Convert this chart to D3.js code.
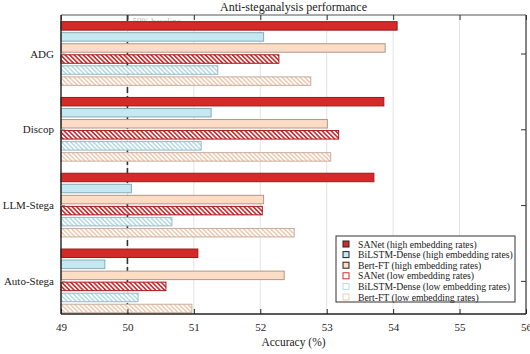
<!DOCTYPE html>
<html>
<head>
<meta charset="utf-8">
<script src="https://cdn.jsdelivr.net/npm/d3@7"></script>
<style>
  body { margin: 0; background: #fff; }
  svg text { font-family: "Liberation Serif", "DejaVu Serif", serif; }
</style>
</head>
<body>
<div id="chart"></div>
<script>
// categories (top to bottom) and series values
var categories = ["ADG", "Discop", "LLM-Stega", "Auto-Stega"];
var seriesNames = [
    "SANet (high embedding rates)",
    "BiLSTM-Dense (high embedding rates)",
    "Bert-FT (high embedding rates)",
    "SANet (low embedding rates)",
    "BiLSTM-Dense (low embedding rates)",
    "Bert-FT (low embedding rates)"
];
var sanetHigh = [54.06, 53.86, 53.71, 51.06];
var bilstmHigh = [52.05, 51.26, 50.06, 49.66];
var bertHigh = [53.88, 53.01, 52.05, 52.36];
var sanetLow = [52.28, 53.18, 52.03, 50.58];
var bilstmLow = [51.36, 51.11, 50.67, 50.16];
var bertLow = [52.76, 53.06, 52.51, 50.97];
var xTicks = [49, 50, 51, 52, 53, 54, 55, 56];

(function () {
    var allSeries = [sanetHigh, bilstmHigh, bertHigh, sanetLow, bilstmLow, bertLow];

    // styles per series: fill colour, edge colour, hatched or not
    var styles = [
        { color: "#d42a2a", edge: "#9a1a1a", hatch: false },
        { color: "#c6e8f1", edge: "#8aaab5", hatch: false },
        { color: "#fcdcc4", edge: "#b09888", hatch: false },
        { color: "#d42a2a", edge: "#a01818", hatch: true },
        { color: "#b5dbe5", edge: "#9bb8c0", hatch: true },
        { color: "#efcbb3", edge: "#c6ad9d", hatch: true }
    ];

    var width = 530, height = 354;
    var mLeft = 61, mRight = 526, mTop = 15, mBottom = 314;

    var svg = d3.select("#chart").append("svg")
        .attr("width", width)
        .attr("height", height);

    // hatch patterns for the low embedding rate bars
    var defs = svg.append("defs");
    styles.forEach(function (s, i) {
        if (!s.hatch) return;
        var p = defs.append("pattern")
            .attr("id", "hatch" + i)
            .attr("patternUnits", "userSpaceOnUse")
            .attr("width", 3.2)
            .attr("height", 3.2)
            .attr("patternTransform", "rotate(-45)");
        p.append("rect").attr("width", 3.2).attr("height", 3.2).attr("fill", "#fff");
        p.append("rect").attr("x", 0).attr("width", 1.6).attr("height", 3.2).attr("fill", s.color);
    });

    var x = d3.scaleLinear().domain([49, 56]).range([mLeft, mRight]);
    var y = d3.scaleLinear().domain([-0.508, 3.437]).range([mTop, mBottom]);
    var barStep = 0.1457, barH = 0.112;

    // grid lines
    svg.append("g").selectAll("line")
        .data(xTicks.slice(1, -1))
        .enter().append("line")
        .attr("x1", function (d) { return x(d); })
        .attr("x2", function (d) { return x(d); })
        .attr("y1", mTop)
        .attr("y2", mBottom)
        .attr("stroke", "#e3e3e3")
        .attr("stroke-width", 1);

    // faint baseline label (mostly hidden behind the first bar)
    svg.append("text")
        .attr("x", x(50) + 5)
        .attr("y", 24)
        .attr("font-size", "9px")
        .attr("fill", "#b8b8b8")
        .text("50% baseline");

    // dashed 50% line
    svg.append("line")
        .attr("x1", x(50)).attr("x2", x(50))
        .attr("y1", mTop).attr("y2", mBottom)
        .attr("stroke", "#333")
        .attr("stroke-width", 1.6)
        .attr("stroke-dasharray", "6,3");

    // bars
    allSeries.forEach(function (vals, j) {
        var s = styles[j];
        svg.append("g").selectAll("rect")
            .data(vals)
            .enter().append("rect")
            .attr("x", x(49))
            .attr("y", function (d, i) { return y(i + (j - 2.5) * barStep - barH / 2); })
            .attr("width", function (d) { return x(d) - x(49); })
            .attr("height", y(barH) - y(0))
            .attr("fill", s.hatch ? "url(#hatch" + j + ")" : s.color)
            .attr("stroke", s.edge)
            .attr("stroke-width", 1);
    });

    // axes box
    var frame = svg.append("g");
    frame.append("line").attr("x1", mLeft).attr("x2", mRight).attr("y1", mTop).attr("y2", mTop)
        .attr("stroke", "#555").attr("stroke-width", 1.2);
    frame.append("line").attr("x1", mRight).attr("x2", mRight).attr("y1", mTop).attr("y2", mBottom)
        .attr("stroke", "#333").attr("stroke-width", 1.2);
    frame.append("line").attr("x1", mLeft).attr("x2", mLeft).attr("y1", mTop).attr("y2", mBottom)
        .attr("stroke", "#222").attr("stroke-width", 1.4);
    frame.append("line").attr("x1", mLeft).attr("x2", mRight).attr("y1", mBottom).attr("y2", mBottom)
        .attr("stroke", "#222").attr("stroke-width", 1.4);

    // x ticks (bottom, inward) and top ticks
    var xAxis = d3.axisBottom(x).tickValues(xTicks).tickSize(-5).tickPadding(9).tickFormat(d3.format("d"));
    var gx = svg.append("g").attr("transform", "translate(0," + mBottom + ")").call(xAxis);
    gx.select(".domain").remove();
    gx.selectAll("line").attr("stroke", "#222");
    gx.selectAll("text").attr("font-size", "11px").attr("fill", "#222")
        .attr("font-family", "Liberation Serif");

    var gxTop = svg.append("g").attr("transform", "translate(0," + mTop + ")")
        .call(d3.axisTop(x).tickValues(xTicks).tickSize(-5).tickFormat(""));
    gxTop.select(".domain").remove();
    gxTop.selectAll("line").attr("stroke", "#333");

    // y ticks (categories)
    var yAxis = d3.axisLeft(y).tickValues(d3.range(categories.length))
        .tickSize(-4).tickPadding(7)
        .tickFormat(function (d) { return categories[d]; });
    var gy = svg.append("g").attr("transform", "translate(" + mLeft + ",0)").call(yAxis);
    gy.select(".domain").remove();
    gy.selectAll("line").attr("stroke", "#888");
    gy.selectAll("text").attr("font-size", "11px").attr("fill", "#222")
        .attr("font-family", "Liberation Serif");

    var gyR = svg.append("g").attr("transform", "translate(" + mRight + ",0)")
        .call(d3.axisRight(y).tickValues(d3.range(categories.length)).tickSize(-5).tickFormat(""));
    gyR.select(".domain").remove();
    gyR.selectAll("line").attr("stroke", "#333");

    // title and axis label
    svg.append("text")
        .attr("x", (mLeft + mRight) / 2)
        .attr("y", 11)
        .attr("text-anchor", "middle")
        .attr("font-size", "12px")
        .attr("fill", "#222")
        .text("Anti-steganalysis performance");

    svg.append("text")
        .attr("x", (mLeft + mRight) / 2)
        .attr("y", 346)
        .attr("text-anchor", "middle")
        .attr("font-size", "11.5px")
        .attr("fill", "#222")
        .text("Accuracy (%)");

    // legend
    var legend = svg.append("g").attr("transform", "translate(336,236)");
    legend.append("rect")
        .attr("width", 179).attr("height", 66)
        .attr("fill", "#fff").attr("stroke", "#333").attr("stroke-width", 1);
    var rows = legend.selectAll("g.row")
        .data(seriesNames)
        .enter().append("g")
        .attr("class", "row")
        .attr("transform", function (d, i) { return "translate(0," + (8 + i * 10.6) + ")"; });
    rows.append("rect")
        .attr("x", 7).attr("y", -3)
        .attr("width", 6).attr("height", 6)
        .attr("fill", function (d, i) { return styles[i].hatch ? "#fff" : styles[i].color; })
        .attr("stroke", function (d, i) { return styles[i].hatch ? styles[i].color : "#222"; })
        .attr("stroke-width", 1);
    rows.append("text")
        .attr("x", 22)
        .attr("y", 3.5)
        .attr("font-size", "9.7px")
        .attr("fill", "#222")
        .text(function (d) { return d; });
})();
</script>
</body>
</html>
